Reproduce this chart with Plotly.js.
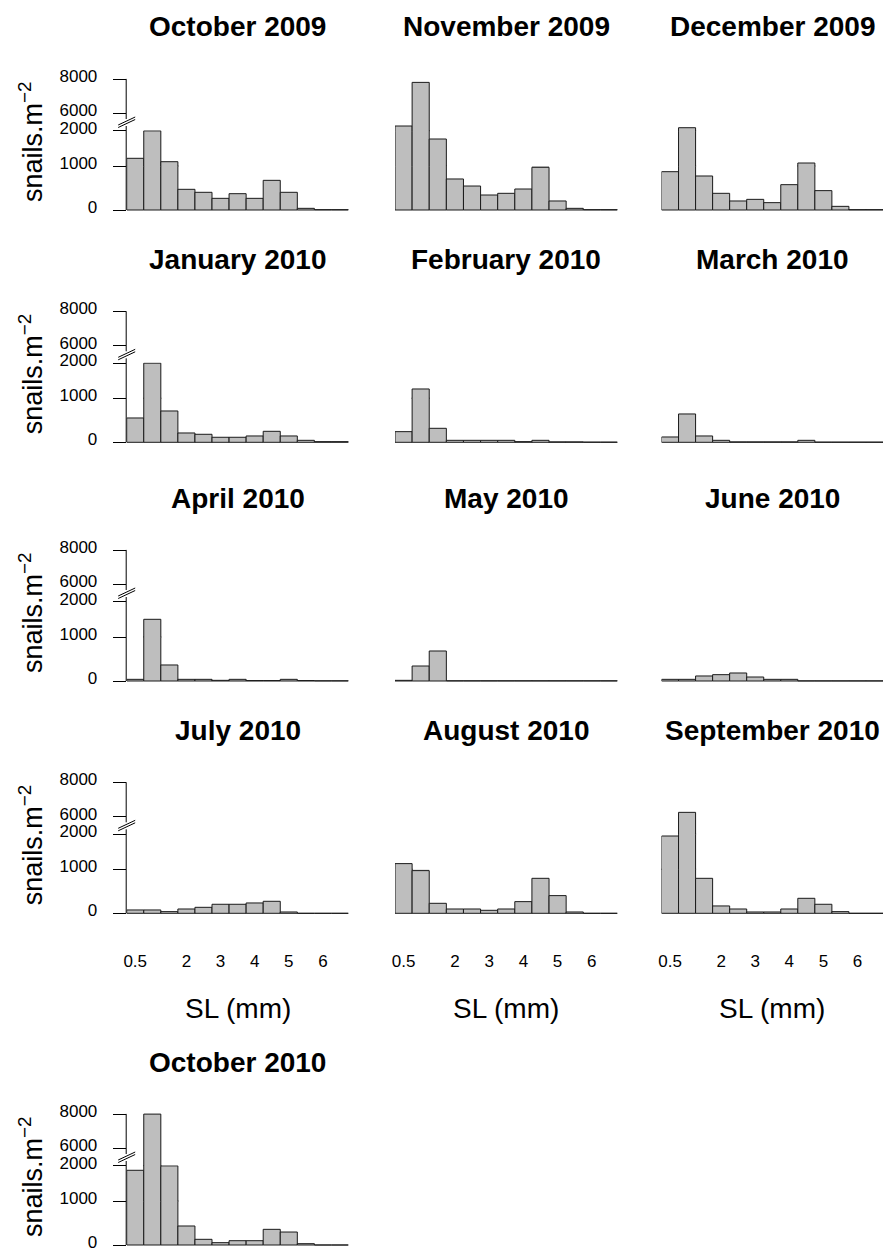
<!DOCTYPE html>
<html><head><meta charset="utf-8">
<script src="https://cdn.plot.ly/plotly-3.0.1.min.js"></script>
<style>html,body{margin:0;padding:0;background:#fff}#chart{width:883px;height:1252px}</style>
</head><body><div id="chart"></div>
<script>
// ---- data (snails per m^2 by shell-length class, mm) ----
const binCenters = [0.5, 1, 1.5, 2, 2.5, 3, 3.5, 4, 4.5, 5, 5.5, 6, 6.5];
const xTickVals = [0.5, 2, 3, 4, 5, 6];
const xTickText = ["0.5", "2", "3", "4", "5", "6"];
const yTickLow = [0];
const yTickMid = [1000, 2000];
const yTickTop = [6000, 8000];
const monthNames = ["October 2009", "November 2009", "December 2009",
  "January 2010", "February 2010", "March 2010",
  "April 2010", "May 2010", "June 2010",
  "July 2010", "August 2010", "September 2010", "October 2010"];
const oct2009 = [1218, 1995, 1122, 470, 402, 265, 371, 265, 674, 402, 38, 8, 8];
const nov2009 = [5273, 7809, 1765, 705, 545, 341, 379, 477, 970, 205, 38, 8, 8];
const dec2009 = [871, 5174, 773, 379, 205, 242, 167, 576, 1085, 440, 83, 8, 8];
const jan2010 = [553, 1995, 712, 212, 182, 114, 114, 144, 250, 144, 45, 15, 15];
const feb2010 = [242, 1264, 318, 45, 45, 45, 45, 15, 45, 10, 10, 5, 5];
const mar2010 = [121, 644, 144, 45, 10, 10, 10, 10, 45, 5, 5, 5, 5];
const apr2010 = [38, 1501, 364, 38, 38, 15, 38, 10, 10, 38, 10, 5, 5];
const may2010 = [15, 341, 682, 5, 5, 5, 5, 5, 5, 5, 5, 5, 5];
const jun2010 = [38, 38, 114, 144, 182, 91, 38, 38, 3, 3, 3, 3, 3];
const jul2010 = [76, 76, 38, 98, 136, 205, 205, 235, 273, 30, 0, 0, 0];
const aug2010 = [1161, 970, 227, 98, 98, 68, 98, 265, 795, 402, 30, 0, 0];
const sep2010 = [1943, 6259, 795, 167, 98, 30, 30, 98, 341, 205, 38, 0, 0];
const oct2010 = [1870, 8000, 1995, 432, 129, 53, 98, 98, 356, 295, 30, 0, 0];
const series = [oct2009, nov2009, dec2009, jan2010, feb2010, mar2010, apr2010,
  may2010, jun2010, jul2010, aug2010, sep2010, oct2010];

// ---- layout geometry (pixels) ----
const W = 883, H = 1252;
const FONT = "Liberation Sans, Arial, Helvetica, sans-serif";
const colLeft = [126.7, 395, 661.5];
const colRight = [348.5, 617.5, 883];
const rowBase = [210, 442.3, 681, 913.3, 1245];
// broken axis: three stacked y-axes per panel (px above baseline).
// Segment scales: 0-1000 over 44px, 1000-2000 over 35.3px, 5000-8000 at 17.2px/1000.
// Neighbouring segments overlap by 1px so no seam shows inside tall bars.
const k0 = 1000 / 44, k1 = 1000 / 35.3, k2 = 1000 / 17.2;
const segs = [
  {h0: -2, h1: 44.5, range: [-2 * k0, 1000 + 0.5 * k0], tv: yTickLow},
  {h0: 43.5, h1: 79.8, range: [1000 - 0.5 * k1, 2000 + 0.5 * k1], tv: yTickMid},
  {h0: 78.8, h1: 133, range: [5000 - 0.5 * k2, 5000 + (133 - 79.3) * k2], tv: yTickTop}
];

const layout = {
  width: W, height: H, margin: {l: 0, r: 0, t: 0, b: 0},
  showlegend: false, bargap: 0,
  paper_bgcolor: "#ffffff", plot_bgcolor: "rgba(0,0,0,0)",
  font: {family: FONT, color: "#000"},
  annotations: [], shapes: []
};
const traces = [];
const px = v => v / W;
const py = v => 1 - v / H;
const idx = n => (n === 1 ? "" : String(n));

series.forEach((vals, i) => {
  const col = i % 3, row = Math.floor(i / 3);
  const L = colLeft[col], R = colRight[col], B = rowBase[row];
  const xn = i + 1;
  layout["xaxis" + idx(xn)] = {
    domain: [px(L), px(R)], range: [0.25, 6.75],
    anchor: "y" + idx(3 * i + 1),
    showgrid: false, zeroline: false, showline: false, ticks: "",
    tickmode: "array", tickvals: xTickVals, ticktext: xTickText,
    showticklabels: row === 3, tickfont: {size: 17, family: FONT, color: "#000"},
    ticklabelstandoff: 34, fixedrange: true
  };
  segs.forEach((s, k) => {
    const yn = 3 * i + k + 1;
    const showY = col === 0;
    layout["yaxis" + idx(yn)] = {
      domain: [py(B - s.h0), py(B - s.h1)], range: s.range,
      anchor: "x" + idx(xn),
      showgrid: false, zeroline: false, showline: false,
      ticks: showY ? "outside" : "", ticklen: 13, tickwidth: 1, tickcolor: "#000",
      tickmode: "array", tickvals: s.tv, ticktext: s.tv.map(String),
      showticklabels: showY, tickfont: {size: 17, family: FONT, color: "#000"},
      ticklabelstandoff: 12, ticklabelshift: -3, fixedrange: true
    };
    traces.push({
      type: "bar", x: binCenters, y: vals,
      xaxis: "x" + idx(xn), yaxis: "y" + idx(yn),
      marker: {color: "#bebebe", line: {color: "#1a1a1a", width: 1}},
      hoverinfo: "skip"
    });
  });
  // panel title
  layout.annotations.push({
    xref: "paper", yref: "paper", x: px((L + R) / 2), y: py(B - 183),
    xanchor: "center", yanchor: "middle", showarrow: false,
    text: "<b>" + monthNames[i] + "</b>", font: {size: 28, family: FONT, color: "#000"}
  });
  if (col === 0) {
    // y axis title
    layout.annotations.push({
      xref: "paper", yref: "paper", x: px(31), y: py(B - 68),
      xanchor: "center", yanchor: "middle", showarrow: false, textangle: -90,
      text: "snails.m<sup>\u22122</sup>", font: {size: 27, family: FONT, color: "#000"}
    });
    // broken axis line + break marks
    const ax = L - 0.5;
    const line = (x0, y0, x1, y1) => layout.shapes.push({
      type: "line", xref: "paper", yref: "paper",
      x0: px(x0), y0: py(y0), x1: px(x1), y1: py(y1),
      line: {color: "#000", width: 1}
    });
    line(ax, B, ax, B - 84);
    line(ax, B - 91, ax, B - 131.1);
    line(ax - 8, B - 82.5, ax + 9, B - 90.5);
    line(ax - 8, B - 85, ax + 9, B - 93);
  }
  if (row === 3) {
    layout.annotations.push({
      xref: "paper", yref: "paper", x: px((L + R) / 2), y: py(1008.3),
      xanchor: "center", yanchor: "middle", showarrow: false,
      text: "SL (mm)", font: {size: 28, family: FONT, color: "#000"}
    });
  }
});

Plotly.newPlot("chart", traces, layout, {displayModeBar: false, staticPlot: true});
</script>
</body></html>
